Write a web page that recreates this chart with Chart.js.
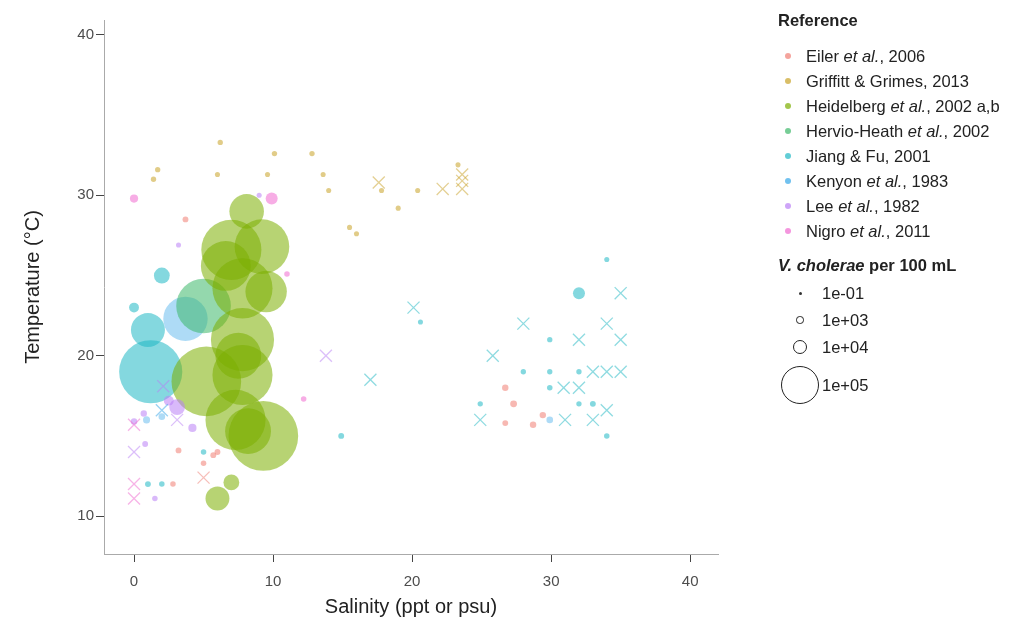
<!DOCTYPE html>
<html>
<head>
<meta charset="utf-8">
<script src="https://cdn.jsdelivr.net/npm/chart.js@4.4.0/dist/chart.umd.min.js"></script>
<style>
  body { margin: 0; background: #fff; font-family: "Liberation Sans", Arial, sans-serif; }
  #wrap { position: relative; width: 1022px; height: 620px; }
  #chart { position: absolute; left: 0; top: 0; }
  .lg { position: absolute; font-size: 16.5px; color: #222; white-space: nowrap; line-height: 18px; }
  .lg b { font-weight: bold; }
  .dot { position: absolute; border-radius: 50%; }
</style>
</head>
<body>
<div id="wrap">
  <canvas id="chart" width="1022" height="620"></canvas>
  <div id="legend"></div>
</div>
<script>
// salinity, temperature, V. cholerae per 100 mL
const eiler = [[3.7,28.5,300],[3.2,14.1,300],[5.7,13.8,300],[6.0,14.0,300],[2.8,12.0,200],[5.0,13.3,200],
  [26.7,18.0,500],[27.3,17.0,700],[26.7,15.8,300],[28.7,15.7,500],[29.4,16.3,500]];
const eilerX = [[5.0,12.4]];

const griffitt = [[6.2,33.3,150],[10.1,32.6,150],[12.8,32.6,150],[1.7,31.6,150],[1.4,31.0,150],[9.6,31.3,100],
  [6.0,31.3,100],[13.6,31.3,100],[14.0,30.3,100],[17.8,30.3,100],[20.4,30.3,100],[19.0,29.2,100],
  [23.3,31.9,100],[15.5,28.0,100],[16.0,27.6,100]];
const griffittX = [[17.6,30.8],[22.2,30.4],[23.6,31.3],[23.6,30.9],[23.6,30.4]];

const heidelberg = [[7.0,26.6,270000],[8.1,29.0,80000],[9.2,26.8,220000],[6.6,25.6,180000],[7.8,24.2,270000],
  [9.5,24.0,120000],[7.8,21.0,300000],[7.5,20.0,150000],[5.2,18.4,370000],[7.8,18.8,270000],
  [7.3,16.0,270000],[9.3,15.0,370000],[8.2,15.3,150000],[7.0,12.1,12000],[6.0,11.1,34000]];

const hervio = [[5.0,23.1,220000]];

const jiang = [[1.2,19.0,300000],[1.0,21.6,77000],[2.0,25.0,12000],[0.0,23.0,3000],[32.0,23.9,5500],
  [5.0,14.0,200],[1.0,12.0,300],[2.0,12.0,200],[29.9,21.0,150],[28.0,19.0,150],[29.9,19.0,150],
  [32.0,19.0,150],[29.9,18.0,200],[32.0,17.0,150],[33.0,17.0,300],[34.0,15.0,200],[24.9,17.0,150],
  [14.9,15.0,300],[34.0,26.0,100],[20.6,22.1,100]];
const jiangX = [[20.1,23.0],[17.0,18.5],[35.0,23.9],[34.0,22.0],[28.0,22.0],[32.0,21.0],[35.0,21.0],
  [33.0,19.0],[34.0,19.0],[35.0,19.0],[30.9,18.0],[32.0,18.0],[34.0,16.6],[31.0,16.0],[33.0,16.0],
  [24.9,16.0],[25.8,20.0]];

const kenyon = [[3.7,22.3,140000],[0.9,16.0,800],[2.0,16.2,600],[29.9,16.0,600]];
const kenyonX = [[2.0,16.6]];

const lee = [[3.1,16.8,12000],[4.2,15.5,1500],[0.0,15.9,500],[0.7,16.4,500],[0.8,14.5,300],
  [1.5,11.1,200],[3.2,26.9,100],[9.0,30.0,100],[2.5,17.2,3000]];
const leeX = [[3.1,16.0],[2.1,18.1],[0.0,14.0],[13.8,20.0]];

const nigro = [[0.0,29.8,1500],[9.9,29.8,5500],[11.0,25.1,200],[12.2,17.3,200]];
const nigroX = [[0.0,15.7],[0.0,12.0],[0.0,11.1]];

const refNames = ['Eiler et al., 2006', 'Griffitt & Grimes, 2013', 'Heidelberg et al., 2002 a,b',
  'Hervio-Heath et al., 2002', 'Jiang & Fu, 2001', 'Kenyon et al., 1983', 'Lee et al., 1982', 'Nigro et al., 2011'];
const refColors = ['#F07E73', '#C9A227', '#7CAE00', '#3DB86A', '#1FB8C4', '#35A6E8', '#B97FF5', '#F06AD0'];
const sizeBreaks = [0.1, 1e3, 1e4, 1e5];
const sizeLabels = ['1e-01', '1e+03', '1e+04', '1e+05'];
const xTicks = [0, 10, 20, 30, 40];
const yTicks = [10, 20, 30, 40];

// area proportional size scale
function radius(n) { return 2 + 0.054 * Math.sqrt(n); }

function alpha(hex, a) {
  const v = parseInt(hex.slice(1), 16);
  return 'rgba(' + (v >> 16) + ',' + ((v >> 8) & 255) + ',' + (v & 255) + ',' + a + ')';
}

const circles = [eiler, griffitt, heidelberg, hervio, jiang, kenyon, lee, nigro];
const crosses = [eilerX, griffittX, [], [], jiangX, kenyonX, leeX, nigroX];
const drawOrder = [2, 2, 3, 4, 6, 5, 1, 1];
const fillAlpha = [0.55, 0.55, 0.55, 0.55, 0.55, 0.4, 0.55, 0.55];

const datasets = [];
circles.forEach(function(pts, i) {
  datasets.push({
    label: refNames[i],
    data: pts.map(function(p) { return { x: p[0], y: p[1], r: radius(p[2]) }; }),
    backgroundColor: alpha(refColors[i], fillAlpha[i]),
    borderWidth: 0,
    order: drawOrder[i]
  });
});
crosses.forEach(function(pts, i) {
  if (!pts.length) return;
  datasets.push({
    label: refNames[i] + ' (x)',
    data: pts.map(function(p) { return { x: p[0], y: p[1], r: 8.5 }; }),
    pointStyle: 'crossRot',
    backgroundColor: 'rgba(0,0,0,0)',
    borderColor: alpha(refColors[i], 0.5),
    borderWidth: 1.3,
    order: 0
  });
});

const tickFont = { size: 15, family: 'Liberation Sans' };
const titleFont = { size: 20, family: 'Liberation Sans' };

new Chart(document.getElementById('chart'), {
  type: 'bubble',
  data: { datasets: datasets },
  options: {
    responsive: false,
    animation: false,
    events: [],
    layout: { autoPadding: false, padding: { left: 20, top: 20, right: 304, bottom: 0 } },
    plugins: { legend: { display: false }, tooltip: { enabled: false } },
    scales: {
      x: {
        type: 'linear', min: -2.16, max: 42.0,
        afterBuildTicks: function(s) { s.ticks = xTicks.map(function(v) { return { value: v }; }); },
        afterFit: function(s) { s.height = 66; s.paddingLeft = 0; s.paddingRight = 0; },
        grid: { drawOnChartArea: false, drawTicks: true, tickLength: 8, color: '#444' },
        border: { display: true, color: '#aaa', width: 1 },
        ticks: { color: '#4d4d4d', font: tickFont, padding: 11, maxRotation: 0 },
        title: { display: true, text: 'Salinity (ppt or psu)', color: '#222',
          font: titleFont, padding: { top: 0, bottom: 1 } }
      },
      y: {
        type: 'linear', min: 7.64, max: 40.93,
        afterBuildTicks: function(s) { s.ticks = yTicks.map(function(v) { return { value: v }; }); },
        afterFit: function(s) { s.width = 84; s.paddingTop = 0; s.paddingBottom = 0; },
        grid: { drawOnChartArea: false, drawTicks: true, tickLength: 8, color: '#444' },
        border: { display: true, color: '#aaa', width: 1 },
        ticks: { color: '#4d4d4d', font: tickFont, padding: 2 },
        title: { display: true, text: 'Temperature (°C)', color: '#222',
          font: titleFont, padding: { top: 1, bottom: 0 } }
      }
    }
  }
});

// legend on the right
const legend = document.getElementById('legend');
function addText(html, x, y, bold) {
  const d = document.createElement('div');
  d.className = 'lg';
  d.style.left = x + 'px';
  d.style.top = (y - 9) + 'px';
  d.innerHTML = bold ? '<b>' + html + '</b>' : html;
  legend.appendChild(d);
}
function addDot(cx, cy, r, style) {
  const d = document.createElement('div');
  d.className = 'dot';
  d.style.left = (cx - r) + 'px';
  d.style.top = (cy - r) + 'px';
  d.style.width = (2 * r) + 'px';
  d.style.height = (2 * r) + 'px';
  Object.assign(d.style, style);
  legend.appendChild(d);
}

addText('Reference', 778, 20, true);
refNames.forEach(function(name, i) {
  const y = 56 + i * 25;
  addDot(788, y, 3, { background: alpha(refColors[i], 0.7) });
  addText(name.replace('et al.', '<i>et al.</i>'), 806, y, false);
});

addText('<i>V. cholerae</i> per 100 mL', 778, 265, true);
const sizeY = [293, 320, 347, 385];
sizeBreaks.forEach(function(v, i) {
  const r = radius(v);
  if (i === 0) addDot(800, sizeY[i], 1.5, { background: '#333' });
  else addDot(800, sizeY[i], r, { border: '1px solid #222', boxSizing: 'border-box' });
  addText(sizeLabels[i], 822, sizeY[i], false);
});
</script>
</body>
</html>
